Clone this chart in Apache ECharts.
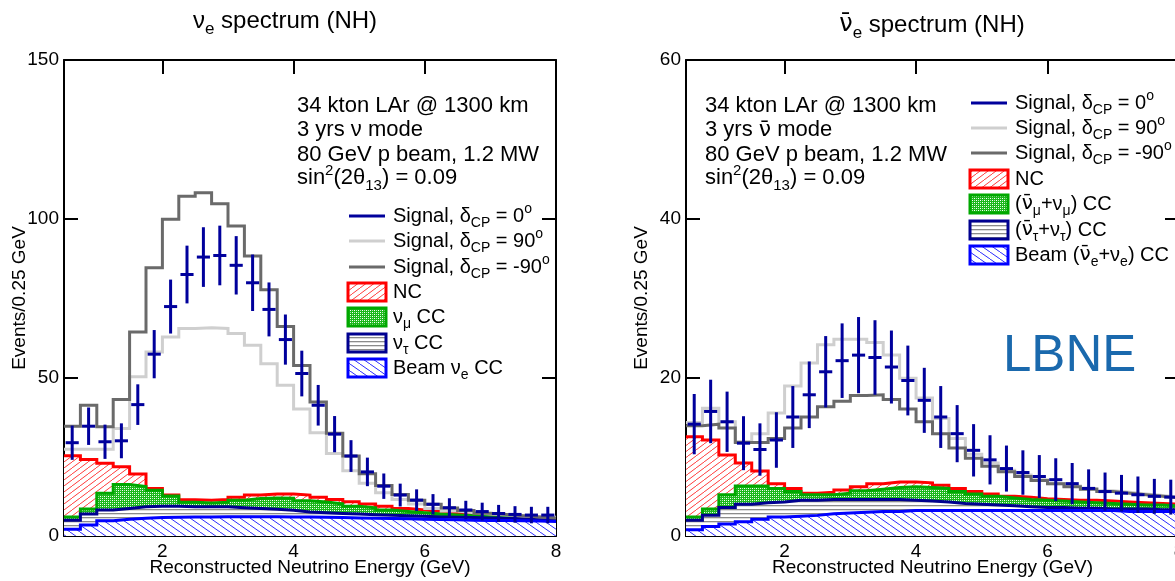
<!DOCTYPE html>
<html><head><meta charset="utf-8">
<script src="https://cdn.jsdelivr.net/npm/echarts@6/dist/echarts.min.js"></script>
<style>html,body{margin:0;padding:0;background:#fff}#c{width:1175px;height:581px}</style>
</head><body><div id="c"></div>
<script>
// ---------- bins & ticks ----------
const binEdges = [0.5,0.75,1,1.25,1.5,1.75,2,2.25,2.5,2.75,3,3.25,3.5,3.75,4,4.25,4.5,4.75,5,5.25,5.5,5.75,6,6.25,6.5,6.75,7,7.25,7.5,7.75,8];
const xTicks = [2,4,6,8];
const yTicksLeft = [0,50,100,150];
const yTicksRight = [0,20,40,60];

// ---------- left panel (nu mode) : stacked background tops ----------
const ncTopL    = [25.3,24.1,22.9,21.8,19.5,15.0,12.9,11.4,11.3,11.5,12.2,12.9,13.2,13.2,12.9,12.2,11.5,10.8,10.1,9.4,8.7,8.2,7.7,7.1,6.8,6.5,6.3,6.1,5.9,5.8];
const numuTopL  = [6.0,8.5,13.5,16.2,15.6,14.4,12.6,10.6,10.4,10.6,11.3,11.8,12.0,11.9,11.1,10.7,10.1,9.4,8.9,8.2,7.7,7.3,6.9,6.6,6.4,6.1,5.9,5.7,5.6,5.5];
const nutauTopL = [5.0,6.9,8.2,8.7,9.2,9.4,9.4,9.2,9.2,9.2,8.9,8.7,8.4,8.1,7.6,7.3,7.1,6.9,6.7,6.5,6.4,6.2,6.0,5.9,5.8,5.7,5.6,5.5,5.4,5.3];
const beamTopL  = [2.1,3.5,4.8,5.3,5.6,5.8,5.9,6.0,6.0,6.1,6.1,6.1,6.1,6.0,6.0,5.9,5.8,5.7,5.6,5.5,5.4,5.3,5.2,5.1,5.0,4.9,4.9,4.8,4.7,4.6];
const sig90L    = [27.3,27.3,27.3,33.9,50.2,58.0,62.7,65.4,65.6,65.4,63.8,60.1,54.3,47.5,40.0,32.5,26.0,20.6,16.6,13.6,11.5,10.1,8.7,7.9,7.3,6.9,6.6,6.3,6.1,5.9];
const sigM90L   = [34.6,41.2,34.4,43.0,64.3,84.5,99.8,107.1,108.2,104.7,97.7,88.2,77.6,66.0,53.7,42.2,32.4,25.2,19.6,15.9,13.1,11.3,10.0,8.8,8.0,7.2,6.8,6.4,6.0,5.7];
const sig0L     = [29.4,34.6,29.7,30.0,41.4,57.3,72.3,82.4,87.9,88.4,85.3,79.8,71.4,61.9,51.2,41.2,32.1,25.2,20.2,15.7,12.9,11.3,10.0,8.9,8.2,7.7,7.1,6.8,6.6,6.6];
const sig0ErrL  = [5.4,5.9,5.4,5.5,6.4,7.6,8.5,9.1,9.4,9.4,9.2,8.9,8.5,7.9,7.2,6.4,5.7,5.0,4.5,4.0,3.6,3.4,3.2,3.0,2.9,2.8,2.7,2.6,2.6,2.6];

// ---------- right panel (anti-nu mode) ----------
const ncTopR    = [12.5,12.1,10.2,9.2,8.2,6.6,6.0,5.4,5.5,5.8,6.2,6.6,6.8,6.8,6.7,6.4,6.0,5.6,5.3,5.0,4.9,4.7,4.6,4.5,4.5,4.4,4.3,4.2,4.1,4.0];
const numuTopR  = [2.4,3.4,5.2,6.3,6.3,6.0,5.6,5.2,5.2,5.4,5.7,5.9,6.1,6.2,6.1,6.0,5.6,5.3,5.0,4.8,4.6,4.5,4.4,4.3,4.2,4.1,4.0,3.9,3.9,3.8];
const nutauTopR = [2.0,2.6,3.6,4.0,4.2,4.3,4.5,4.5,4.6,4.6,4.6,4.6,4.6,4.5,4.4,4.3,4.1,4.0,3.9,3.8,3.7,3.6,3.6,3.5,3.5,3.4,3.4,3.4,3.3,3.3];
const beamTopR  = [0.8,1.2,1.5,1.8,2.1,2.4,2.5,2.6,2.8,2.9,3.0,3.1,3.1,3.2,3.2,3.2,3.2,3.2,3.2,3.2,3.2,3.2,3.2,3.2,3.2,3.2,3.1,3.1,3.1,3.1];
const sig90R    = [14.3,16.1,14.4,11.9,12.9,15.5,18.9,21.8,24.1,24.8,24.8,24.4,22.8,19.9,17.4,14.8,12.3,10.3,9.2,8.3,7.7,7.1,6.6,6.3,6.0,5.7,5.5,5.3,5.1,4.9];
const sigM90R   = [13.9,14.1,13.6,11.8,11.8,12.3,13.6,15.0,16.3,17.0,17.7,17.8,17.2,16.0,14.4,12.9,11.1,9.8,8.8,8.1,7.5,7.0,6.6,6.2,5.9,5.6,5.4,5.2,5.0,4.8];
const sig0R     = [14.1,15.7,14.4,11.7,10.9,12.1,15.0,17.8,20.7,22.1,22.8,22.5,21.3,19.6,17.1,15.0,12.9,10.8,9.6,8.5,8.0,7.5,7.1,6.6,6.0,5.6,5.4,5.2,5.0,4.9];
const sig0ErrR  = [3.8,4.0,3.8,3.4,3.3,3.5,3.9,4.2,4.5,4.7,4.8,4.7,4.6,4.4,4.1,3.9,3.6,3.3,3.1,2.9,2.8,2.7,2.7,2.6,2.4,2.4,2.3,2.3,2.2,2.2];

// ---------- texts ----------
const titles = ['ν{sub|e} spectrum (NH)', '{nb|ν\u0304}{sub|e} spectrum (NH)'];
const xName = 'Reconstructed Neutrino Energy (GeV)';
const yName = 'Events/0.25 GeV';
const infoL = ['34 kton LAr @ 1300 km', '3 yrs ν mode', '80 GeV p beam, 1.2 MW', 'sin{sup|2}(2θ{sub|13}) = 0.09'];
const infoR = ['34 kton LAr @ 1300 km', '3 yrs {nb|ν\u0304} mode', '80 GeV p beam, 1.2 MW', 'sin{sup|2}(2θ{sub|13}) = 0.09'];
const sigLegend = ['Signal, δ{sub|CP} = 0{sup|o}', 'Signal, δ{sub|CP} = 90{sup|o}', 'Signal, δ{sub|CP} = -90{sup|o}'];
const bkgLegendL = ['NC', 'ν{sub|μ} CC', 'ν{sub|τ} CC', 'Beam ν{sub|e} CC'];
const bkgLegendR = ['NC', '({nb|ν\u0304}{sub|μ}+ν{sub|μ}) CC', '({nb|ν\u0304}{sub|τ}+ν{sub|τ}) CC', 'Beam ({nb|ν\u0304}{sub|e}+ν{sub|e}) CC'];
const watermark = 'LBNE';

// ---------- style ----------
const FONT = '"Liberation Sans", Arial, "DejaVu Sans", sans-serif';
const BARFONT = '"DejaVu Sans", sans-serif';
const C = {nc:'#ff0000', numu:'#00a800', nutau:'#000090', beam:'#0000ff', s0:'#00009c', s90:'#cfcfcf', sm90:'#6a6a6a'};

function mk(w,h,draw){const c=document.createElement('canvas');c.width=w;c.height=h;const g=c.getContext('2d');draw(g,w,h);return c;}
function diag(w,h,color,up){
  return mk(w,h,(g)=>{g.fillStyle='#fff';g.fillRect(0,0,w,h);g.strokeStyle=color;g.lineWidth=1;
    for(let k=-1;k<=1;k++){g.beginPath(); if(up){g.moveTo(k*w,h);g.lineTo(k*w+w,0);} else {g.moveTo(k*w,0);g.lineTo(k*w+w,h);} g.stroke();}});
}
const patNC = {image: diag(8,6,'#ff3b3b',true), repeat:'repeat'};
const patBeam = {image: diag(10,7,'#2a2aff',false), repeat:'repeat'};
const patNumu = {image: mk(4,4,(g)=>{g.fillStyle='#1cb81c';g.fillRect(0,0,4,4);g.fillStyle='#ffffff';g.fillRect(0,0,1,1);g.fillRect(2,2,1,1);g.fillStyle='#b4ecb4';g.fillRect(2,0,1,1);g.fillRect(0,2,1,1);}), repeat:'repeat'};
const patNutau = {image: mk(4,4,(g)=>{g.fillStyle='#fff';g.fillRect(0,0,4,4);g.fillStyle='#8a8a8a';g.fillRect(0,1,4,1.3);}), repeat:'repeat'};

function stepData(vals){ return binEdges.map((e,i)=>[e, vals[Math.min(i, vals.length-1)]]); }
function hist(gi, vals, color, pattern, z){
  const s = {type:'line', xAxisIndex: gi*2, yAxisIndex: gi*2, data: stepData(vals), step:'end',
    showSymbol:false, symbol:'none', z, silent:true, clip:true,
    lineStyle:{color, width:3, join:'miter'}};
  if (pattern) s.areaStyle = {color: pattern, opacity: 1};
  return s;
}
function crosses(gi, vals, errs, color, z){
  const data = vals.map((v,i)=>[binEdges[i], binEdges[i+1], v, errs[i]]);
  return {type:'custom', xAxisIndex: gi*2, yAxisIndex: gi*2, z, silent:true, data,
    encode:{x:[0,1], y:[2]},
    renderItem(params, api){
      const lo=api.value(0), hi=api.value(1), v=api.value(2), e=api.value(3), c=(lo+hi)/2;
      const pT=api.coord([c, v+e]), pB=api.coord([c, v-e]), pL=api.coord([lo, v]), pR=api.coord([hi, v]);
      const ins=(pR[0]-pL[0])*0.1;
      return {type:'group', children:[
        {type:'line', shape:{x1:pT[0],y1:pT[1],x2:pB[0],y2:pB[1]}, style:{stroke:color, lineWidth:3}},
        {type:'line', shape:{x1:pL[0]+ins,y1:pL[1],x2:pR[0]-ins,y2:pR[1]}, style:{stroke:color, lineWidth:3}}
      ]};
    }};
}
const axisLineStyle = {show:true, onZero:false, lineStyle:{color:'#000', width:2}};
function xAx(gi, pos, showLabels){
  return {type:'value', gridIndex:gi, position:pos, min:0.5, max:8,
    axisLine: axisLineStyle,
    axisTick:{show:true, inside:true, length:14, customValues:xTicks, lineStyle:{color:'#000', width:2}},
    axisLabel:{show:showLabels, customValues:xTicks, color:'#000', fontSize:19, fontFamily:FONT, margin:6},
    splitLine:{show:false},
    name: showLabels ? xName : '', nameLocation:'middle', nameGap:22, nameMoveOverlap:false,
    nameTextStyle:{color:'#000', fontSize:19, fontFamily:FONT}};
}
function yAx(gi, pos, showLabels, ticks){
  return {type:'value', gridIndex:gi, position:pos, min:ticks[0], max:ticks[ticks.length-1], interval:ticks[1]-ticks[0],
    axisLine: axisLineStyle,
    axisTick:{show:true, inside:true, length:14, lineStyle:{color:'#000', width:2}},
    axisLabel:{show:showLabels, color:'#000', fontSize:19, fontFamily:FONT, margin:5},
    splitLine:{show:false},
    name: showLabels ? yName : '', nameLocation:'middle', nameGap:35, nameMoveOverlap:false,
    nameTextStyle:{color:'#000', fontSize:19, fontFamily:FONT}};
}

// ---------- graphic: titles, info text, legends ----------
function richSet(subSize, supSize, supLH, main){
  return {sub:{fontSize:subSize, lineHeight:subSize, verticalAlign:'bottom', fontFamily:FONT},
          sup:{fontSize:supSize, lineHeight:supLH, verticalAlign:'top', fontFamily:FONT},
          nb:{fontSize:main, fontFamily:BARFONT}};
}
const G = [];
function addText(x, y, text, size, lh, align, rich, fill){
  G.push({type:'text', x, y, z:100, silent:true,
    style:{text, fontSize:size, fontFamily:FONT, lineHeight:lh, fill:fill||'#000', align, verticalAlign:'middle', rich}});
}
// titles
addText(285, 21, titles[0], 24, 34, 'center', richSet(17,17,20,24));
addText(932, 25, titles[1], 24, 34, 'center', richSet(17,17,20,24));
// info blocks
const infoY = [106, 130, 154.5, 178];
infoL.forEach((t,i)=>addText(297, infoY[i], t, 22, 30, 'left', richSet(15,15,21,22)));
infoR.forEach((t,i)=>addText(705, infoY[i], t, 22, 30, 'left', richSet(15,15,21,22)));
// legends
function legend(x0, textX, lineYs, boxYs, bkgTexts){
  const lc=[C.s0, C.s90, C.sm90];
  lineYs.forEach((y,i)=>{
    G.push({type:'line', z:100, silent:true, shape:{x1:x0+1, y1:y, x2:x0+37, y2:y}, style:{stroke:lc[i], lineWidth:3}});
    addText(textX, y, sigLegend[i], 20, 28, 'left', richSet(14,14,18,20));
  });
  const bs=[[patNC,C.nc],[patNumu,C.numu],[patNutau,C.nutau],[patBeam,C.beam]];
  boxYs.forEach((y,i)=>{
    G.push({type:'rect', z:100, silent:true, shape:{x:x0, y:y-9, width:38, height:18}, style:{fill:bs[i][0], stroke:bs[i][1], lineWidth:3}});
    addText(textX, y, bkgTexts[i], 20, 28, 'left', richSet(14,14,18,20));
  });
}
legend(348, 393, [216, 241, 267], [292, 317, 343, 368], bkgLegendL);
legend(970, 1015, [103, 128, 153], [179, 204, 230, 255], bkgLegendR);
addText(1003, 357, watermark, 51, 60, 'left', {}, '#1a69ad');

const option = {
  animation:false,
  backgroundColor:'#fff',
  grid:[
    {left:64, top:60, width:492, height:476, containLabel:false, outerBoundsMode:'none'},
    {left:686, top:60, width:493, height:476, containLabel:false, outerBoundsMode:'none'}
  ],
  xAxis:[xAx(0,'bottom',true), xAx(0,'top',false), xAx(1,'bottom',true), xAx(1,'top',false)],
  yAxis:[yAx(0,'left',true,yTicksLeft), yAx(0,'right',false,yTicksLeft), yAx(1,'left',true,yTicksRight), yAx(1,'right',false,yTicksRight)],
  series:[
    hist(0, ncTopL, C.nc, patNC, 2),
    hist(0, numuTopL, C.numu, patNumu, 3),
    hist(0, nutauTopL, C.nutau, patNutau, 4),
    hist(0, beamTopL, C.beam, patBeam, 5),
    hist(0, sig90L, C.s90, null, 6),
    hist(0, sigM90L, C.sm90, null, 7),
    crosses(0, sig0L, sig0ErrL, C.s0, 8),
    hist(1, ncTopR, C.nc, patNC, 2),
    hist(1, numuTopR, C.numu, patNumu, 3),
    hist(1, nutauTopR, C.nutau, patNutau, 4),
    hist(1, beamTopR, C.beam, patBeam, 5),
    hist(1, sig90R, C.s90, null, 6),
    hist(1, sigM90R, C.sm90, null, 7),
    crosses(1, sig0R, sig0ErrR, C.s0, 8)
  ],
  graphic:{elements:G}
};
const chart = echarts.init(document.getElementById('c'), null, {renderer:'canvas'});
chart.setOption(option);
</script>
</body></html>
